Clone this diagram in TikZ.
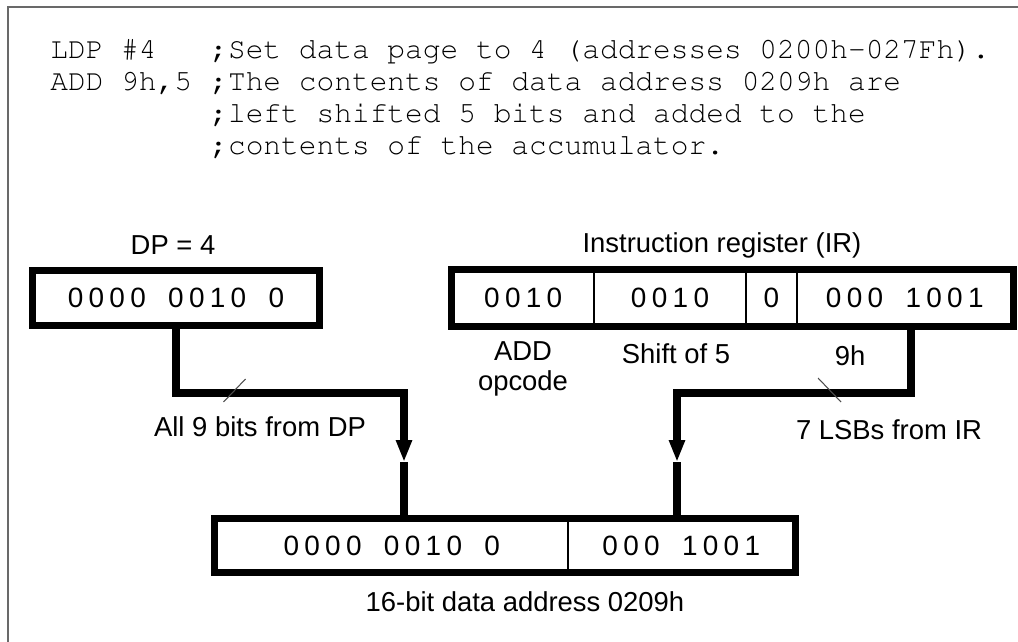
\documentclass[tikz,border=0pt]{standalone}
\usepackage[T1]{fontenc}
\usepackage{fontspec}
\setmainfont{Liberation Sans}
\newfontfamily\bitfamily[LetterSpace=19]{Liberation Sans}
\newcommand{\codefont}{\fontencoding{T1}\fontfamily{pcr}\fontsize{16.8}{20}\selectfont}
\newcommand{\bitfont}{\bitfamily\fontsize{15.9}{18}\selectfont}
\newcommand{\labfont}{\fontsize{15.6}{17}\selectfont}
\newcommand{\gp}{\hspace{0.8em}}
\usetikzlibrary{arrows.meta}
\definecolor{framegray}{RGB}{105,105,105}

\begin{document}
\begin{tikzpicture}
\tikzstyle{cell}=[rectangle, draw, line width=0.8pt, inner sep=0pt,
    minimum height=1.1cm, font=\bitfont]
\tikzstyle{regbox}=[line width=3.9pt]
\tikzstyle{bus}=[line width=5pt]
\tikzstyle{tick}=[line width=0.6pt, black!70]
\tikzstyle{lab}=[font=\labfont]
\tikzstyle{code}=[anchor=base west, inner sep=0pt, font=\codefont]

\useasboundingbox (0,0) rectangle (20.36,-12.82);
\draw[framegray, line width=1.3pt] (0.16,-13) |- (20.6,-0.14);

% program lines
\node[code] (op1) at (1.0,-1.18) {LDP \#4};
\node[code] (op2) at (1.0,-1.82) {ADD 9h,5};
\node[code] (cm1) at (4.2,-1.18) {;Set data page to 4 (addresses 0200h-027Fh).};
\node[code] (cm2) at (4.2,-1.82) {;The contents of data address 0209h are};
\node[code] (cm3) at (4.2,-2.46) {;left shifted 5 bits and added to the};
\node[code] (cm4) at (4.2,-3.10) {;contents of the accumulator.};

% data page pointer
\node[cell, line width=3.9pt, minimum width=5.74cm] (dp) at (3.52,-5.96) {0000\gp0010\gp0};
\node[lab] (dplab) at (3.46,-4.9) {DP = 4};

% instruction register
\node[cell, minimum width=2.83cm] (ir1) at (10.465,-5.96) {0010};
\node[cell, minimum width=3.04cm] (ir2) at (13.4,-5.96) {0010};
\node[cell, minimum width=1.02cm] (ir3) at (15.43,-5.96) {0};
\node[cell, minimum width=4.31cm] (ir4) at (18.095,-5.96) {000\gp1001};
\draw[regbox] (ir1.north west) rectangle (ir4.south east);
\node[lab] (irlab) at (14.44,-4.9) {Instruction register (IR)};

\node[lab, align=center] (opc) at (10.46,-7.38) {ADD\\opcode};
\node[lab] (shf) at (13.52,-7.08) {Shift of 5};
\node[lab] (nh) at (17.0,-7.12) {9h};

% 16-bit address
\node[cell, minimum width=7.05cm, minimum height=1.04cm] (ad1) at (7.835,-10.91) {0000\gp0010\gp0};
\node[cell, minimum width=4.53cm, minimum height=1.04cm] (ad2) at (13.625,-10.91) {000\gp1001};
\draw[regbox] (ad1.north west) rectangle (ad2.south east);
\node[lab] (addr) at (10.5,-12.04) {16-bit data address 0209h};

% buses
\coordinate (dpk) at (8.08,-7.86);
\coordinate (dpa) at (8.08,-9.24);
\draw[bus, -{Triangle[length=0.44cm,width=0.3cm]}] (dp.south) |- (dpk) -- (dpa);
\draw[bus] (dpa) -- (dpa |- ad1.north);

\coordinate (irk) at (13.54,-7.86);
\coordinate (ira) at (13.54,-9.24);
\draw[bus, -{Triangle[length=0.44cm,width=0.3cm]}] ([xshift=0.125cm]ir4.south) |- (irk) -- (ira);
\draw[bus] (ira) -- (ira |- ad2.north);

\coordinate (t1) at (4.69,-7.81);
\draw[tick] ([shift={(0.22,0.23)}]t1) -- ([shift={(-0.22,-0.23)}]t1);
\coordinate (t2) at (16.59,-7.8);
\draw[tick] ([shift={(-0.23,0.24)}]t2) -- ([shift={(0.23,-0.24)}]t2);

\node[lab] (all9) at (5.2,-8.54) {All 9 bits from DP};
\node[lab] (lsb7) at (17.78,-8.6) {7 LSBs from IR};
\end{tikzpicture}
\end{document}
